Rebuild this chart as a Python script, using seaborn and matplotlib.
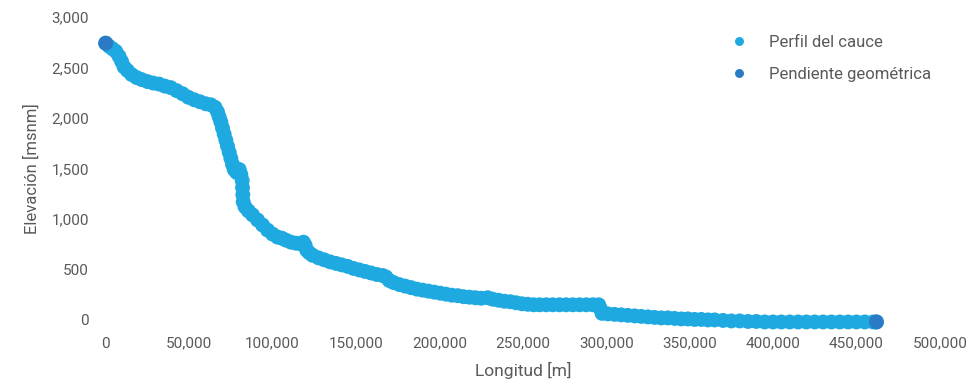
import pandas as pd
import seaborn as sns
import matplotlib.pyplot as plt
from matplotlib.ticker import FuncFormatter, MultipleLocator

# river profile: distance [m] and elevation [msnm]
perfil_x = [0, 2000, 4000, 6000, 8000, 9500, 11000, 13000, 15500, 18500,
            21500, 25000, 28500, 32000, 35500, 39000, 42500, 46000, 49500, 53000,
            56500, 60000, 63000, 65500, 67000, 68000, 69000, 70000, 71000, 72000,
            73000, 74000, 75000, 76000, 77000, 78500, 80000, 81000, 81800, 82000,
            82200, 82400, 83500, 85500, 88000, 91000, 94000, 97000, 100000, 103000,
            105500, 108000, 111000, 114000, 116500, 118500, 119500, 120500, 122000, 124000, 127500,
            131000, 134500, 138000, 141500, 145000, 148500, 152000, 155500, 159000, 162500,
            166000, 168000, 170000, 172500, 176000, 179500, 183000, 186500, 190000, 193500,
            197000, 200500, 204000, 207500, 211000, 214500, 218000, 221500, 225000, 229000,
            232000, 235500, 239000, 242500, 246000, 249500, 253000, 256500, 260000, 264000,
            268000, 272000, 276000, 280000, 284000, 288000, 292000, 295500, 296500, 297500,
            301000, 305000, 309000, 313000, 317000, 321000, 325000, 329000, 333000, 337000,
            341000, 345000, 349000, 353000, 357000, 361000, 365000, 370000, 375000, 380000,
            385000, 390000, 395000, 400000, 405000, 410000, 415000, 420000, 425000, 430000,
            435000, 440000, 445000, 450000, 455000, 460000, 462000]
perfil_y = [2740, 2710, 2685, 2660, 2610, 2560, 2505, 2470, 2430, 2400,
            2380, 2360, 2345, 2335, 2315, 2300, 2270, 2240, 2205, 2180,
            2160, 2140, 2130, 2105, 2060, 2010, 1960, 1900, 1840, 1780,
            1720, 1660, 1600, 1540, 1490, 1460, 1490, 1440, 1380, 1310,
            1240, 1170, 1120, 1080, 1040, 990, 940, 890, 850, 820,
            810, 790, 770, 760, 755, 770, 740, 690, 665, 640, 615,
            595, 575, 560, 545, 530, 510, 495, 480, 465, 450,
            440, 425, 390, 370, 350, 335, 320, 305, 295, 285,
            275, 265, 255, 245, 240, 230, 225, 220, 215, 220,
            205, 195, 185, 180, 170, 160, 155, 150, 150, 150,
            150, 150, 150, 150, 150, 150, 150, 150, 110, 65,
            60, 55, 50, 45, 40, 35, 30, 25, 20, 20,
            15, 10, 10, 5, 5, 0, 0, -5, -10, -10,
            -15, -15, -20, -20, -20, -20, -20, -20, -20, -20,
            -20, -20, -20, -20, -20, -20, -20]

# geometric slope: start and end points
pendiente_x = [0, 462000]
pendiente_y = [2740, -20]

df = pd.concat([
    pd.DataFrame({"x": perfil_x, "y": perfil_y, "Serie": "Perfil del cauce"}),
    pd.DataFrame({"x": pendiente_x, "y": pendiente_y, "Serie": "Pendiente geométrica"}),
])

sns.set_style("white")
plt.rcParams["font.family"] = ["Roboto", "DejaVu Sans"]

fig = plt.figure(figsize=(9.79, 3.85), dpi=100)
ax = fig.add_axes([0.108, 0.169, 0.852, 0.787])

sns.scatterplot(data=df, x="x", y="y", hue="Serie",
                palette={"Perfil del cauce": "#1FA9E1",
                         "Pendiente geométrica": "#2B7BC4"},
                s=115, linewidth=0, clip_on=False, ax=ax)

ax.set_xlim(0, 500000)
ax.set_ylim(0, 3000)
ax.xaxis.set_major_locator(MultipleLocator(50000))
ax.yaxis.set_major_locator(MultipleLocator(500))
ax.xaxis.set_major_formatter(FuncFormatter(lambda v, p: f"{v:,.0f}"))
ax.yaxis.set_major_formatter(FuncFormatter(lambda v, p: f"{v:,.0f}"))
ax.tick_params(colors="#595959", labelsize=11, length=0, pad=12)
sns.despine(ax=ax, left=True, bottom=True)

ax.set_xlabel("Longitud [m]", fontsize=12.5, color="#595959", labelpad=8)
ax.set_ylabel("Elevación [msnm]", fontsize=12, color="#595959", labelpad=8)

ax.legend(loc="upper right", bbox_to_anchor=(1.008, 0.99), frameon=False,
          fontsize=12, labelcolor="#595959", markerscale=0.6,
          labelspacing=1.0, handletextpad=1.0, handlelength=1.6)

plt.savefig("out.png", dpi=100)
